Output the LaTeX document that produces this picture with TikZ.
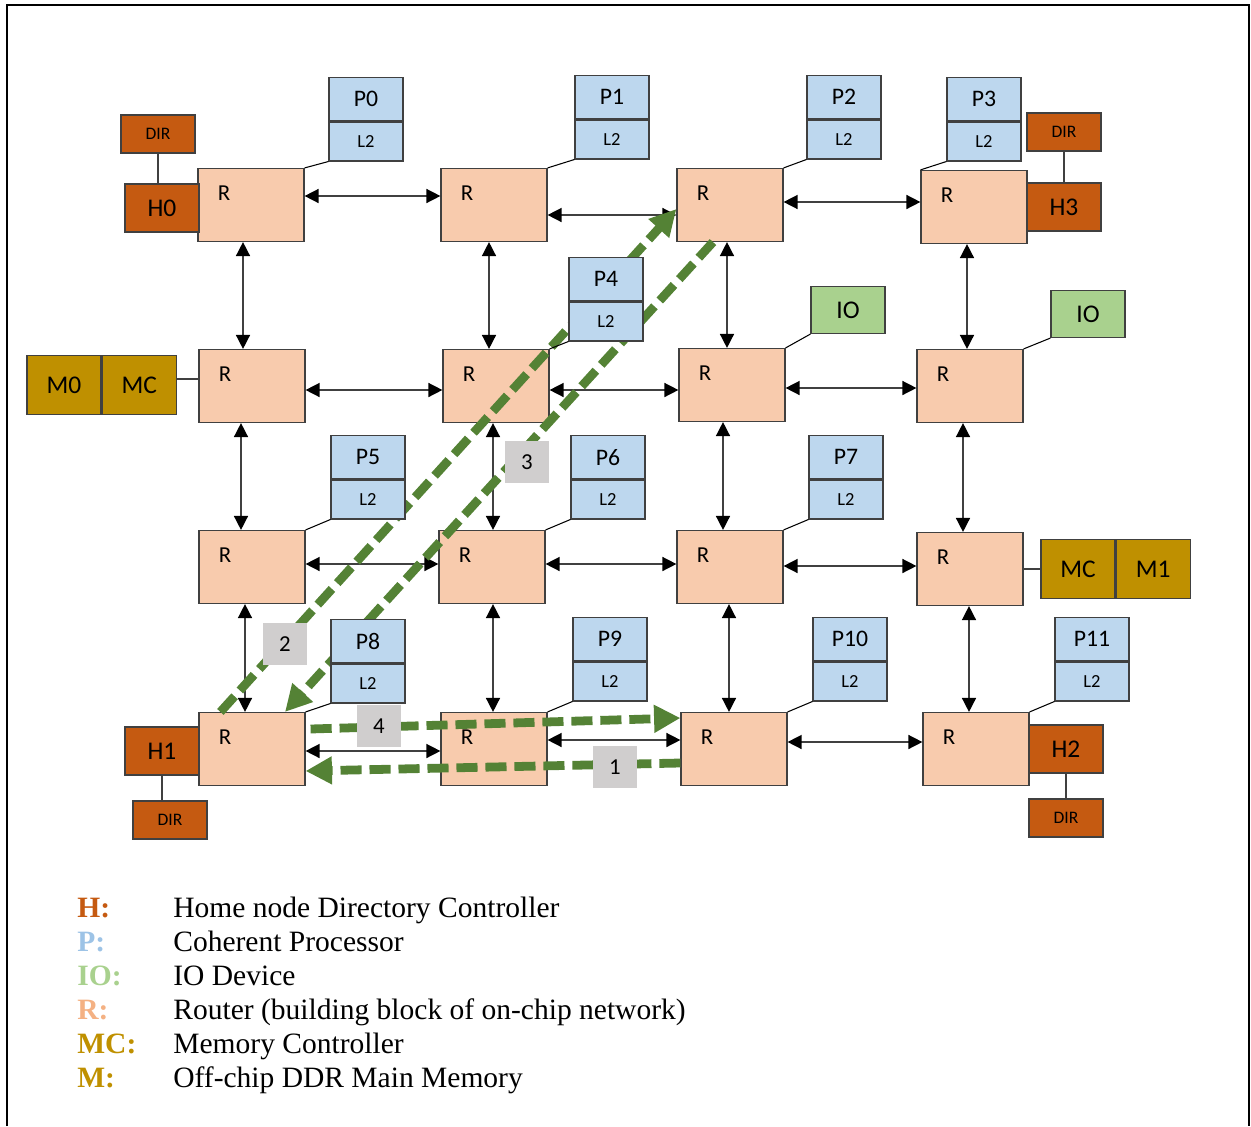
\documentclass[tikz,border=0pt]{standalone}
\usepackage{fontspec}
\setmainfont{Carlito}
\newfontfamily\legendfont{Liberation Serif}
\usetikzlibrary{arrows.meta,positioning,calc}

\definecolor{routerfill}{HTML}{F8CBAD}
\definecolor{procfill}{HTML}{BDD7EE}
\definecolor{iofill}{HTML}{A9D18E}
\definecolor{homefill}{HTML}{C55A11}
\definecolor{memfill}{HTML}{BF9000}
\definecolor{pathgreen}{HTML}{548235}
\definecolor{taggray}{HTML}{D0CECE}
\definecolor{edgegray}{HTML}{404040}
\definecolor{legendblue}{HTML}{9DC3E6}
\definecolor{legendpeach}{HTML}{F4B183}

\begin{document}
\begin{tikzpicture}[x=0.02cm, y=-0.02cm,
    box/.style={draw=edgegray, line width=0.7pt, inner sep=0pt, minimum width=42.1pt},
    router/.style={box, fill=routerfill, minimum width=60.3pt, minimum height=41.5pt,
      label={[anchor=north west, inner sep=0pt, xshift=11.5pt, yshift=-10.2pt, font=\fontsize{13}{15}\selectfont]north west:R}},
    ptop/.style={box, fill=procfill, minimum height=24.5pt, font=\fontsize{13.5}{15}\selectfont},
    pbot/.style={box, fill=procfill, minimum height=22.2pt, font=\fontsize{10.5}{12}\selectfont},
    homebox/.style={box, fill=homefill, minimum height=27.3pt, font=\fontsize{14.5}{16}\selectfont},
    dirbox/.style={box, fill=homefill, minimum height=21.6pt, font=\fontsize{10}{12}\selectfont},
    membox/.style={box, fill=memfill, minimum height=33.6pt, font=\fontsize{14.5}{16}\selectfont},
    iobox/.style={box, fill=iofill, minimum height=26.7pt, font=\fontsize{14.5}{16}\selectfont},
    numtag/.style={fill=taggray, inner sep=0pt, minimum width=25pt, minimum height=23.9pt, font=\fontsize{13}{15}\selectfont},
    link/.style={draw=edgegray, line width=0.85pt,
      {Triangle[length=8pt,width=8pt,black]}-{Triangle[length=8pt,width=8pt,black]}},
    stub/.style={draw=black, line width=0.6pt},
    flow/.style={draw=pathgreen, line width=5pt, dash pattern=on 12pt off 4.5pt,
      -{Triangle[length=15pt,width=15pt]}},
    legkey/.style={anchor=base west, inner sep=0pt, font=\legendfont\bfseries\fontsize{16.8}{19}\selectfont},
    legtext/.style={anchor=base west, inner sep=0pt, font=\legendfont\fontsize{16.8}{19}\selectfont}]

  \useasboundingbox (0,0) rectangle (1251,1126);

  % routers
  \node[router] (r00) at (251,205) {};
  \node[router] (r01) at (494,205) {};
  \node[router] (r02) at (730,205) {};
  \node[router] (r03) at (974,207) {};
  \node[router] (r10) at (252,386) {};
  \node[router] (r11) at (496,386) {};
  \node[router] (r12) at (732,385) {};
  \node[router] (r13) at (970,386) {};
  \node[router] (r20) at (252,567) {};
  \node[router] (r21) at (492,567) {};
  \node[router] (r22) at (730,567) {};
  \node[router] (r23) at (970,569) {};
  \node[router] (r30) at (252,749) {};
  \node[router] (r31) at (494,749) {};
  \node[router] (r32) at (734,749) {};
  \node[router] (r33) at (976,749) {};

  % home nodes and directories
  \node[homebox] (h0) at (162,208) {H0};
  \node[dirbox] (dir0) at (158,134) {DIR};
  \node[homebox] (h3) at (1064,207) {H3};
  \node[dirbox] (dir3) at (1064,132) {DIR};
  \node[homebox] (h1) at (162,751) {H1};
  \node[dirbox] (dir1) at (170,820) {DIR};
  \node[homebox] (h2) at (1066,749) {H2};
  \node[dirbox] (dir2) at (1066,818) {DIR};
  \draw[stub, edgegray] (dir0.south) -- (dir0.south |- h0.north);
  \draw[stub, edgegray] (dir3.south) -- (dir3.south |- h3.north);
  \draw[stub, edgegray] (h1.south) -- (h1.south |- dir1.north);
  \draw[stub, edgegray] (h2.south) -- (dir2.north);

  % memory
  \node[membox] (m0) at (64,385) {M0};
  \node[membox, right=0pt of m0] (mc0) {MC};
  \node[membox] (mc1) at (1078,569) {MC};
  \node[membox, right=0pt of mc1] (m1) {M1};
  \draw[stub, edgegray] ($(mc0.east)+(0,-6)$) -- ($(r10.west)+(0,-7)$);
  \draw[stub, edgegray] (r23.east) -- (r23.east -| mc1.west);

  % io
  \node[iobox] (io1) at (848,310) {IO};
  \node[iobox] (io2) at (1088,314) {IO};
  \draw[stub] (io1.south west) -- (r12.north east);
  \draw[stub] (io2.south west) -- (r13.north east);

  % mesh links
  \draw[link] ($(r00.east)+(0,-9)$) -- ($(r01.west)+(0,-9)$);
  \draw[link] ($(r01.east)+(0,10)$) -- ($(r02.west)+(0,10)$);
  \draw[link] ($(r02.east)+(0,-3)$) -- ($(r03.west)+(0,-5)$);
  \draw[link] ($(r10.east)+(0,4)$) -- ($(r11.west)+(0,4)$);
  \draw[link] ($(r11.east)+(0,4)$) -- ($(r12.west)+(0,5)$);
  \draw[link] ($(r12.east)+(0,3)$) -- ($(r13.west)+(0,2)$);
  \draw[link] ($(r20.east)+(0,-3)$) -- ($(r21.west)+(0,-3)$);
  \draw[link] ($(r21.east)+(0,-3)$) -- ($(r22.west)+(0,-3)$);
  \draw[link] ($(r22.east)+(0,-1)$) -- ($(r23.west)+(0,-3)$);
  \draw[link] ($(r30.east)+(0,2)$) -- ($(r31.west)+(0,2)$);
  \draw[link] ($(r31.east)+(0,-9)$) -- ($(r32.west)+(0,-9)$);
  \draw[link] ($(r32.east)+(0,-7)$) -- ($(r33.west)+(0,-7)$);
  \draw[link] ($(r00.south)+(-8,0)$) -- ($(r10.north)+(-9,0)$);
  \draw[link] ($(r10.south)+(-11,0)$) -- ($(r20.north)+(-11,0)$);
  \draw[link] ($(r20.south)+(-7,0)$) -- ($(r30.north)+(-7,0)$);
  \draw[link] ($(r01.south)+(-5,0)$) -- ($(r11.north)+(-7,0)$);
  \draw[link] ($(r11.south)+(-3,0)$) -- ($(r21.north)+(1,0)$);
  \draw[link] ($(r21.south)+(1,0)$) -- ($(r31.north)+(-1,0)$);
  \draw[link] ($(r02.south)+(-3,0)$) -- ($(r12.north)+(-5,0)$);
  \draw[link] ($(r12.south)+(-9,0)$) -- ($(r22.north)+(-7,0)$);
  \draw[link] ($(r22.south)+(-1,0)$) -- ($(r32.north)+(-5,0)$);
  \draw[link] ($(r03.south)+(-7,0)$) -- ($(r13.north)+(-3,0)$);
  \draw[link] ($(r13.south)+(-7,0)$) -- ($(r23.north)+(-7,0)$);
  \draw[link] ($(r23.south)+(-1,0)$) -- ($(r33.north)+(-7,0)$);

  % message flow
  \draw[flow] ($(r32.west)+(0,14)$) -- ($(r30.east)+(0,22)$);
  \draw[flow] ($(r30.north west)+(22,0)$) -- ($(r02.west)+(0,4)$);
  \draw[flow] ($(r02.south)+(-17,0)$) -- ($(r30.north)+(33,0)$);
  \draw[flow] ($(r30.east)+(5,-20)$) -- ($(r32.west)+(0,-31)$);

  % processors with L2
  \node[ptop, anchor=north] (p0) at (366,77) {P0};
  \node[pbot, below=0pt of p0] (p0l) {L2};
  \node[ptop, anchor=north] (p1) at (612,75) {P1};
  \node[pbot, below=0pt of p1] (p1l) {L2};
  \node[ptop, anchor=north] (p2) at (844,75) {P2};
  \node[pbot, below=0pt of p2] (p2l) {L2};
  \node[ptop, anchor=north] (p3) at (984,77) {P3};
  \node[pbot, below=0pt of p3] (p3l) {L2};
  \node[ptop, anchor=north] (p4) at (606,257) {P4};
  \node[pbot, below=0pt of p4] (p4l) {L2};
  \node[ptop, anchor=north] (p5) at (368,435) {P5};
  \node[pbot, below=0pt of p5] (p5l) {L2};
  \node[ptop, anchor=north] (p6) at (608,435) {P6};
  \node[pbot, below=0pt of p6] (p6l) {L2};
  \node[ptop, anchor=north] (p7) at (846,435) {P7};
  \node[pbot, below=0pt of p7] (p7l) {L2};
  \node[ptop, anchor=north] (p8) at (368,619) {P8};
  \node[pbot, below=0pt of p8] (p8l) {L2};
  \node[ptop, anchor=north] (p9) at (610,617) {P9};
  \node[pbot, below=0pt of p9] (p9l) {L2};
  \node[ptop, anchor=north] (p10) at (850,617) {P10};
  \node[pbot, below=0pt of p10] (p10l) {L2};
  \node[ptop, anchor=north] (p11) at (1092,617) {P11};
  \node[pbot, below=0pt of p11] (p11l) {L2};
  \draw[stub] (p0l.south west) -- (r00.north east);
  \draw[stub] (p1l.south west) -- (r01.north east);
  \draw[stub] (p2l.south west) -- (r02.north east);
  \draw[stub] (p3l.south west) -- (r03.north west);
  \draw[stub] (p4l.south west) -- (r11.north east);
  \draw[stub] (p5l.south west) -- (r20.north east);
  \draw[stub] (p6l.south west) -- (r21.north east);
  \draw[stub] (p7l.south west) -- (r22.north east);
  \draw[stub] (p8l.south west) -- (r30.north east);
  \draw[stub] (p9l.south west) -- (r31.north east);
  \draw[stub] (p10l.south west) -- (r32.north east);
  \draw[stub] (p11l.south west) -- (r33.north east);

  % step numbers
  \node[numtag] (n1) at (615,767) {1};
  \node[numtag] (n2) at (285,644) {2};
  \node[numtag] (n3) at (527,462) {3};
  \node[numtag] (n4) at (379,726) {4};

  % legend
  \node[legkey, text=homefill] (kh) at (77,917) {H:};
  \node[legtext] (th) at (173,917) {Home node Directory Controller};
  \node[legkey, text=legendblue] (kp) at (77,951) {P:};
  \node[legtext] (tp) at (173,951) {Coherent Processor};
  \node[legkey, text=iofill] (kio) at (77,985) {IO:};
  \node[legtext] (tio) at (173,985) {IO Device};
  \node[legkey, text=legendpeach] (kr) at (77,1019) {R:};
  \node[legtext] (tr) at (173,1019) {Router (building block of on-chip network)};
  \node[legkey, text=memfill] (kmc) at (77,1053) {MC:};
  \node[legtext] (tmc) at (173,1053) {Memory Controller};
  \node[legkey, text=memfill] (km) at (77,1087) {M:};
  \node[legtext] (tm) at (173,1087) {Off-chip DDR Main Memory};

  % frame
  \draw[line width=1.5pt] (7,1126) -- (7,5) -- (1249,5) -- (1249,1126);
\end{tikzpicture}
\end{document}
